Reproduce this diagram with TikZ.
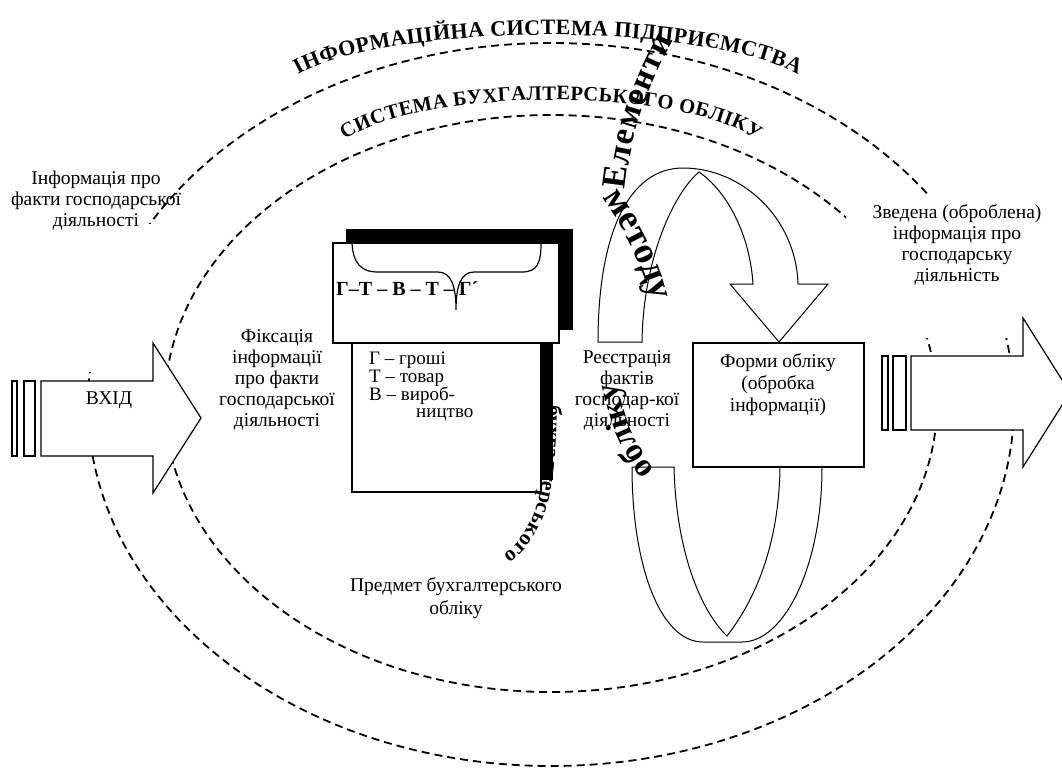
\documentclass[tikz,border=0pt]{standalone}
\usepackage{fontspec}
\setmainfont{Liberation Serif}
\usetikzlibrary{decorations.text}

% fonts for the arched captions
\newcommand\capfontA{\bfseries\fontsize{22}{22}\selectfont}
\newcommand\capfontB{\bfseries\fontsize{20.5}{20.5}\selectfont}
\newcommand\methfont{\bfseries\fontsize{34}{34}\selectfont}
\newcommand\methfontbig{\bfseries\fontsize{37}{37}\selectfont}
\newcommand\methfontmid{\bfseries\fontsize{33}{33}\selectfont}
\newcommand\methfontsmall{\bfseries\fontsize{21.5}{21.5}\selectfont}

\begin{document}
\begin{tikzpicture}[x=1pt,y=-1pt,
  every node/.style={inner sep=0pt},
  lbl/.style={align=center,font=\fontsize{19.5}{21}\selectfont},
  border/.style={draw,line width=1.2pt,fill=white},
  bandline/.style={draw,line width=1pt,fill=white},
  sysline/.style={dash pattern=on 8pt off 5pt,line width=1.8pt},
  arctext/.style={decorate,decoration={text along path,text align={fit to path},text={#1}}},
]
\path[use as bounding box,fill=white] (0,0) rectangle (1062,769);

% the two systems: enterprise information system and accounting system
\coordinate (outerc) at (551,404.5);
\coordinate (innerc) at (551,403.5);
\draw[sysline] (outerc) ellipse [x radius=463pt,y radius=361.5pt];
\draw[sysline] (innerc) ellipse [x radius=386pt,y radius=288.5pt];

% blank areas behind the input and output captions
\fill[white] (20,224) rectangle (158,372);
\fill[white] (846,196) rectangle (1050,338);

% arched captions of the systems
\path[arctext={|\capfontA|ІНФОРМАЦІЙНА СИСТЕМА ПІДПРИЄМСТВА}]
  (298,74.8) arc[start angle=-157.8,end angle=-22.2,x radius=270,y radius=64];
\path[arctext={|\capfontB|СИСТЕМА БУХГАЛТЕРСЬКОГО ОБЛІКУ}]
  (345,140.2) arc[start angle=-159.4,end angle=-20.6,x radius=220,y radius=62];

% input arrow
\draw[border] (12,381) rectangle (17,456);
\draw[border] (24,381) rectangle (35,456);
\draw[border] (41,381) -- (153,381) -- (153,343) -- (201,418) -- (153,493)
  -- (153,456) -- (41,456) -- cycle;
\node[lbl] (vhid) at (109,400) {ВХІД};

% output arrow
\draw[border] (882,356) rectangle (888,430);
\draw[border] (893,356) rectangle (906,430);
\draw[border] (911,356) -- (1023,356) -- (1023,318) -- (1070,392.5) -- (1023,467)
  -- (1023,430) -- (911,430) -- cycle;

% subject of accounting: two shadowed boxes
\fill[black] (346,229) rectangle (573,330);
\fill[black] (364,331) rectangle (553,480);
\draw[border] (352,343) rectangle (541,492);
\draw[border] (333,243) rectangle (559,343);
\node[anchor=west,font=\bfseries\fontsize{20}{21}\selectfont] (formula) at (336,289) {Г–Т – В – Т – Г´};
\draw[line width=1.2pt] (352,243) .. controls (353,262) and (360,272) .. (378,272) -- (438,272)
  .. controls (452,272) and (456,288) .. (456,310)
  .. controls (456,288) and (460,272) .. (474,272) -- (522,272)
  .. controls (538,272) and (541,262) .. (541,243);
\node[anchor=north west,align=left,font=\fontsize{19}{16.3}\selectfont] (legend) at (369,352)
  {Г – гроші\\Т – товар\\В – вироб-\\\hspace*{47pt}ництво};

% lower loop of the processing cycle
\draw[bandline] (632,467) -- (674,467) .. controls (676,550) and (700,610) .. (727,636)
  .. controls (755,600) and (779,545) .. (780,467) -- (822,467)
  .. controls (822,565) and (785,642) .. (742,642) -- (703,642)
  .. controls (660,642) and (632,565) .. (632,467) -- cycle;

% forms of accounting
\draw[border] (693,343) rectangle (864,467);

% upper curved arrow of the processing cycle
\draw[bandline] (598,342) .. controls (598,235) and (628,168) .. (683,168)
  .. controls (742,168) and (796,218) .. (798,284) -- (828,284) -- (779,342)
  -- (730,284) -- (753,284) .. controls (750,236) and (728,192) .. (699,172)
  .. controls (672,195) and (643,262) .. (642,342) -- cycle;

% captions
\node[lbl] (infoin) at (96,201) {Інформація про\\факти господарської\\діяльності};
\node[lbl] (fixing) at (277,380) {Фіксація\\інформації\\про факти\\господарської\\діяльності};
\node[lbl] (register) at (627,390) {Реєстрація\\фактів\\господар-кої\\діяльності};
\node[lbl,font=\fontsize{19.5}{22}\selectfont] (forms) at (778,385) {Форми обліку\\(обробка\\інформації)};
\node[lbl] (infoout) at (957,245) {Зведена (оброблена)\\інформація про\\господарську\\діяльність};
\node[lbl,font=\fontsize{19.5}{23}\selectfont] (subject) at (456,598) {Предмет бухгалтерського\\обліку};

% winding caption: elements of the accounting method
\path[arctext={|\methfont|Елементи}] (625,190) .. controls (631,130) and (650,85) .. (673,40);
\path[arctext={|\methfontbig|методу}] (602,198) .. controls (625,230) and (641,262) .. (651,298);
\path[arctext={|\methfontsmall|бухгалтерського}] (547,405) .. controls (546,480) and (540,530) .. (503,555);
\path[arctext={|\methfontmid|обліку}] (655,470) .. controls (638,450) and (625,420) .. (618,388);
\end{tikzpicture}
\end{document}
